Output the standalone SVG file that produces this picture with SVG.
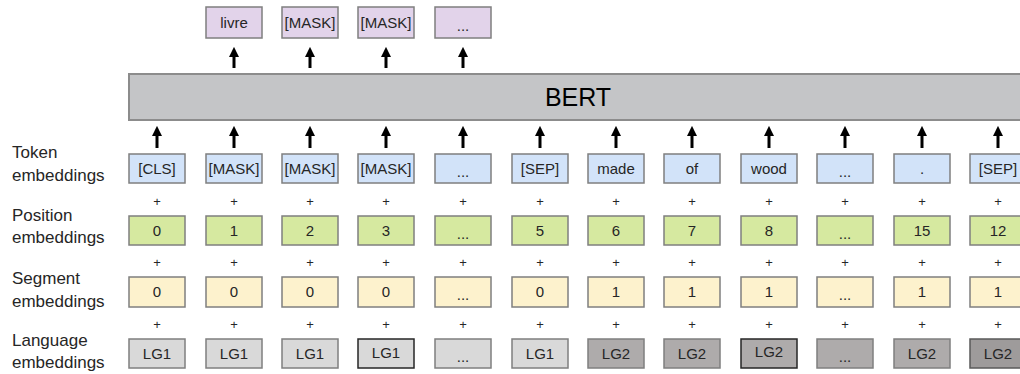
<svg xmlns="http://www.w3.org/2000/svg" width="1020" height="374" viewBox="0 0 1020 374">
<style>
text{font-family:"Liberation Sans",Arial,sans-serif;fill:#262626}
.lbl{font-size:17px}
.t{font-size:15px;text-anchor:middle}
.p{font-size:13px;text-anchor:middle}
.box{stroke:#7f7f7f;stroke-width:1.5}
.tok{fill:#d2e3f9}
.pos{fill:#d6e9a0}
.seg{fill:#fdf2cd}
.lg1{fill:#d9d9d9}
.lg2{fill:#aeabab}
.out{fill:#e2d3ea}
.dark{stroke:#262626}
.arr{stroke:#000;stroke-width:3;fill:none;marker-end:url(#ah)}
</style>
<defs>
<marker id="ah" viewBox="0 0 10 10" refX="5" refY="5" markerWidth="3.4" markerHeight="3.4" orient="auto" markerUnits="strokeWidth">
<path d="M0,0 L10,5 L0,10 z" fill="#000"/>
</marker>
</defs>
<rect width="1020" height="374" fill="#fff"/>

<g id="labels">
<text class="lbl" x="12" y="158">Token</text>
<text class="lbl" x="12" y="181">embeddings</text>
<text class="lbl" x="12" y="221">Position</text>
<text class="lbl" x="12" y="243">embeddings</text>
<text class="lbl" x="12" y="284">Segment</text>
<text class="lbl" x="12" y="307">embeddings</text>
<text class="lbl" x="12" y="346">Language</text>
<text class="lbl" x="12" y="368">embeddings</text>
</g>

<g id="bert">
<rect x="129" y="74" width="900" height="46" fill="#c4c5c7" stroke="#8c8c8c" stroke-width="2"/>
<text x="578" y="106" style="font-size:25px;text-anchor:middle;fill:#000">BERT</text>
</g>

<g id="outputs">
<g id="out1"><rect class="box out" x="206" y="7" width="56" height="31"/><text class="t" x="234" y="28">livre</text></g>
<g id="out2"><rect class="box out" x="282" y="7" width="56" height="31"/><text class="t" x="310" y="28">[MASK]</text></g>
<g id="out3"><rect class="box out" x="358" y="7" width="56" height="31"/><text class="t" x="386" y="28">[MASK]</text></g>
<g id="out4"><rect class="box out" x="435" y="7" width="56" height="31"/><text class="t" x="463" y="31">...</text></g>
</g>

<g id="connectors">
<line class="arr" x1="234" y1="68" x2="234" y2="52"/>
<line class="arr" x1="310" y1="68" x2="310" y2="52"/>
<line class="arr" x1="386" y1="68" x2="386" y2="52"/>
<line class="arr" x1="463" y1="68" x2="463" y2="52"/>
<line class="arr" x1="157" y1="148" x2="157" y2="131"/>
<line class="arr" x1="234" y1="148" x2="234" y2="131"/>
<line class="arr" x1="310" y1="148" x2="310" y2="131"/>
<line class="arr" x1="386" y1="148" x2="386" y2="131"/>
<line class="arr" x1="463" y1="148" x2="463" y2="131"/>
<line class="arr" x1="540" y1="148" x2="540" y2="131"/>
<line class="arr" x1="616" y1="148" x2="616" y2="131"/>
<line class="arr" x1="692" y1="148" x2="692" y2="131"/>
<line class="arr" x1="769" y1="148" x2="769" y2="131"/>
<line class="arr" x1="845" y1="148" x2="845" y2="131"/>
<line class="arr" x1="922" y1="148" x2="922" y2="131"/>
<line class="arr" x1="998" y1="148" x2="998" y2="131"/>
</g>

<g id="token-row">
<g id="tok1"><rect class="box tok" x="129" y="154" width="56" height="29"/><text class="t" x="157" y="174">[CLS]</text></g>
<g id="tok2"><rect class="box tok" x="206" y="154" width="56" height="29"/><text class="t" x="234" y="174">[MASK]</text></g>
<g id="tok3"><rect class="box tok" x="282" y="154" width="56" height="29"/><text class="t" x="310" y="174">[MASK]</text></g>
<g id="tok4"><rect class="box tok" x="358" y="154" width="56" height="29"/><text class="t" x="386" y="174">[MASK]</text></g>
<g id="tok5"><rect class="box tok" x="435" y="154" width="56" height="29"/><text class="t" x="463" y="177">...</text></g>
<g id="tok6"><rect class="box tok" x="512" y="154" width="56" height="29"/><text class="t" x="540" y="174">[SEP]</text></g>
<g id="tok7"><rect class="box tok" x="588" y="154" width="56" height="29"/><text class="t" x="616" y="174">made</text></g>
<g id="tok8"><rect class="box tok" x="664" y="154" width="56" height="29"/><text class="t" x="692" y="174">of</text></g>
<g id="tok9"><rect class="box tok" x="741" y="154" width="56" height="29"/><text class="t" x="769" y="174">wood</text></g>
<g id="tok10"><rect class="box tok" x="817" y="154" width="56" height="29"/><text class="t" x="845" y="177">...</text></g>
<g id="tok11"><rect class="box tok" x="894" y="154" width="56" height="29"/><text class="t" x="922" y="174">.</text></g>
<g id="tok12"><rect class="box tok" x="970" y="154" width="56" height="29"/><text class="t" x="998" y="174">[SEP]</text></g>
</g>

<g id="plus-signs">
<text class="p" x="157" y="206">+</text><text class="p" x="234" y="206">+</text><text class="p" x="310" y="206">+</text><text class="p" x="386" y="206">+</text><text class="p" x="463" y="206">+</text><text class="p" x="540" y="206">+</text><text class="p" x="616" y="206">+</text><text class="p" x="692" y="206">+</text><text class="p" x="769" y="206">+</text><text class="p" x="845" y="206">+</text><text class="p" x="922" y="206">+</text><text class="p" x="998" y="206">+</text>
<text class="p" x="157" y="267">+</text><text class="p" x="234" y="267">+</text><text class="p" x="310" y="267">+</text><text class="p" x="386" y="267">+</text><text class="p" x="463" y="267">+</text><text class="p" x="540" y="267">+</text><text class="p" x="616" y="267">+</text><text class="p" x="692" y="267">+</text><text class="p" x="769" y="267">+</text><text class="p" x="845" y="267">+</text><text class="p" x="922" y="267">+</text><text class="p" x="998" y="267">+</text>
<text class="p" x="157" y="329">+</text><text class="p" x="234" y="329">+</text><text class="p" x="310" y="329">+</text><text class="p" x="386" y="329">+</text><text class="p" x="463" y="329">+</text><text class="p" x="540" y="329">+</text><text class="p" x="616" y="329">+</text><text class="p" x="692" y="329">+</text><text class="p" x="769" y="329">+</text><text class="p" x="845" y="329">+</text><text class="p" x="922" y="329">+</text><text class="p" x="998" y="329">+</text>
</g>

<g id="position-row">
<g id="pos1"><rect class="box pos" x="129" y="216" width="56" height="29"/><text class="t" x="157" y="236">0</text></g>
<g id="pos2"><rect class="box pos" x="206" y="216" width="56" height="29"/><text class="t" x="234" y="236">1</text></g>
<g id="pos3"><rect class="box pos" x="282" y="216" width="56" height="29"/><text class="t" x="310" y="236">2</text></g>
<g id="pos4"><rect class="box pos" x="358" y="216" width="56" height="29"/><text class="t" x="386" y="236">3</text></g>
<g id="pos5"><rect class="box pos" x="435" y="216" width="56" height="29"/><text class="t" x="463" y="239">...</text></g>
<g id="pos6"><rect class="box pos" x="512" y="216" width="56" height="29"/><text class="t" x="540" y="236">5</text></g>
<g id="pos7"><rect class="box pos" x="588" y="216" width="56" height="29"/><text class="t" x="616" y="236">6</text></g>
<g id="pos8"><rect class="box pos" x="664" y="216" width="56" height="29"/><text class="t" x="692" y="236">7</text></g>
<g id="pos9"><rect class="box pos" x="741" y="216" width="56" height="29"/><text class="t" x="769" y="236">8</text></g>
<g id="pos10"><rect class="box pos" x="817" y="216" width="56" height="29"/><text class="t" x="845" y="239">...</text></g>
<g id="pos11"><rect class="box pos" x="894" y="216" width="56" height="29"/><text class="t" x="922" y="236">15</text></g>
<g id="pos12"><rect class="box pos" x="970" y="216" width="56" height="29"/><text class="t" x="998" y="236">12</text></g>
</g>

<g id="segment-row">
<g id="seg1"><rect class="box seg" x="129" y="277" width="56" height="30"/><text class="t" x="157" y="297">0</text></g>
<g id="seg2"><rect class="box seg" x="206" y="277" width="56" height="30"/><text class="t" x="234" y="297">0</text></g>
<g id="seg3"><rect class="box seg" x="282" y="277" width="56" height="30"/><text class="t" x="310" y="297">0</text></g>
<g id="seg4"><rect class="box seg" x="358" y="277" width="56" height="30"/><text class="t" x="386" y="297">0</text></g>
<g id="seg5"><rect class="box seg" x="435" y="277" width="56" height="30"/><text class="t" x="463" y="300">...</text></g>
<g id="seg6"><rect class="box seg" x="512" y="277" width="56" height="30"/><text class="t" x="540" y="297">0</text></g>
<g id="seg7"><rect class="box seg" x="588" y="277" width="56" height="30"/><text class="t" x="616" y="297">1</text></g>
<g id="seg8"><rect class="box seg" x="664" y="277" width="56" height="30"/><text class="t" x="692" y="297">1</text></g>
<g id="seg9"><rect class="box seg" x="741" y="277" width="56" height="30"/><text class="t" x="769" y="297">1</text></g>
<g id="seg10"><rect class="box seg" x="817" y="277" width="56" height="30"/><text class="t" x="845" y="300">...</text></g>
<g id="seg11"><rect class="box seg" x="894" y="277" width="56" height="30"/><text class="t" x="922" y="297">1</text></g>
<g id="seg12"><rect class="box seg" x="970" y="277" width="56" height="30"/><text class="t" x="998" y="297">1</text></g>
</g>

<g id="language-row">
<g id="lg1"><rect class="box lg1" x="129" y="339" width="56" height="29"/><text class="t" x="157" y="359">LG1</text></g>
<g id="lg2"><rect class="box lg1" x="206" y="339" width="56" height="29"/><text class="t" x="234" y="359">LG1</text></g>
<g id="lg3"><rect class="box lg1" x="282" y="339" width="56" height="29"/><text class="t" x="310" y="359">LG1</text></g>
<g id="lg4"><rect class="box lg1 dark" x="358" y="339" width="56" height="29"/><text class="t" x="386" y="358">LG1</text></g>
<g id="lg5"><rect class="box lg1" x="435" y="339" width="56" height="29"/><text class="t" x="463" y="362">...</text></g>
<g id="lg6"><rect class="box lg1" x="512" y="339" width="56" height="29"/><text class="t" x="540" y="359">LG1</text></g>
<g id="lg7"><rect class="box lg2" x="588" y="339" width="56" height="29"/><text class="t" x="616" y="359">LG2</text></g>
<g id="lg8"><rect class="box lg2" x="664" y="339" width="56" height="29"/><text class="t" x="692" y="359">LG2</text></g>
<g id="lg9"><rect class="box lg2 dark" x="741" y="339" width="56" height="29"/><text class="t" x="769" y="357">LG2</text></g>
<g id="lg10"><rect class="box lg2" x="817" y="339" width="56" height="29"/><text class="t" x="845" y="362">...</text></g>
<g id="lg11"><rect class="box lg2" x="894" y="339" width="56" height="29"/><text class="t" x="922" y="359">LG2</text></g>
<g id="lg12"><rect class="box" x="970" y="339" width="56" height="29" style="fill:#9e9b9b;stroke:#5a5a5a"/><text class="t" x="998" y="359">LG2</text></g>
</g>
</svg>
